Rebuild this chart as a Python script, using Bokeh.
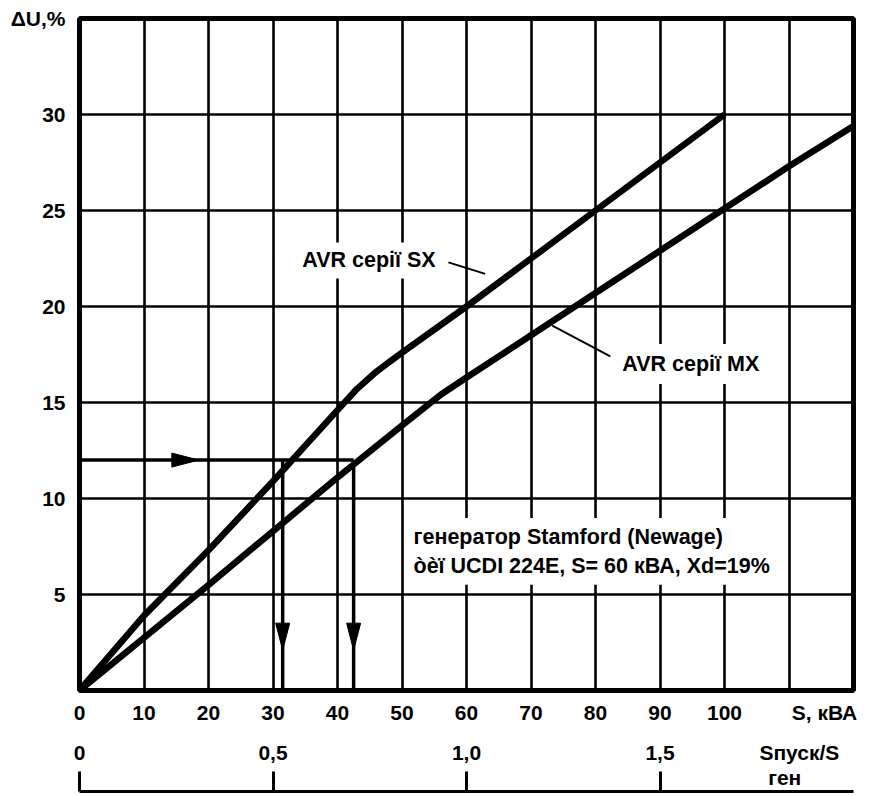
from bokeh.plotting import figure
from bokeh.models import Range1d, LinearAxis, FixedTicker, Label
from bokeh.embed import file_html
from bokeh.resources import INLINE

# ---------------- data ----------------
s_sx = [0, 10, 20, 30, 40, 43, 46, 48, 50, 60, 70, 80, 90, 100]
du_sx = [0, 3.9, 7.3, 10.9, 14.6, 15.7, 16.6, 17.1, 17.6, 20.0, 22.5, 25.0, 27.5, 30.0]

s_mx = [0, 10, 20, 30, 40, 50, 56, 60, 70, 80, 90, 100, 110, 120]
du_mx = [0, 2.75, 5.5, 8.3, 11.1, 13.8, 15.4, 16.3, 18.5, 20.7, 22.9, 25.1, 27.3, 29.4]

x_ticks = [0, 10, 20, 30, 40, 50, 60, 70, 80, 90, 100]
x_grid = [10, 20, 30, 40, 50, 60, 70, 80, 90, 100, 110]
x_unit_label = "S, кВА"
y_ticks = [5, 10, 15, 20, 25, 30]
y_unit_label = "ΔU,%"
ratio_ticks = [0, 0.5, 1.0, 1.5]
ratio_labels = ["0", "0,5", "1,0", "1,5"]
ratio_unit_label = "Sпуск/S\nген\u00a0\u00a0\u00a0\u00a0\u00a0"
s_nominal = 60  # kVA

example_du = 12           # voltage dip read-off level
example_s = [31.5, 42.5]  # resulting loads, SX and MX
arrow_tip_s = 18.5
drop_tip_du = 2.1

sx_label = "AVR серії SX"
mx_label = "AVR серії MX"
gen_label = "генератор Stamford (Newage)\nòèï UCDI 224E, S= 60 кВА, Xd=19%"

# ---------------- layout ----------------
W, H = 862, 796
ML, MR, MT, MB = 79, 9, 18, 106
X0, X1, Y0, Y1 = 0, 120, 0, 35
FONT = "Liberation Sans"
TICK_FS = "21px"
ANN_FS = "21.5px"

p = figure(width=W, height=H, x_range=Range1d(X0, X1), y_range=Range1d(Y0, Y1),
           output_backend="svg", toolbar_location=None,
           min_border_left=ML, min_border_right=MR, min_border_top=MT, min_border_bottom=MB)
p.background_fill_color = "white"
p.border_fill_color = "white"
p.outline_line_color = "black"
p.outline_line_width = 5

fw = W - ML - MR
fh = H - MT - MB
px_x = fw / (X1 - X0)
px_y = fh / (Y1 - Y0)

p.xgrid.ticker = FixedTicker(ticks=x_grid)
p.ygrid.ticker = FixedTicker(ticks=y_ticks)
for g in (p.xgrid[0], p.ygrid[0]):
    g.grid_line_color = "black"
    g.grid_line_width = 2.6

# primary x axis
ax = p.xaxis[0]
unit_pos = 115.5
ax.ticker = FixedTicker(ticks=x_ticks + [unit_pos])
ax.major_label_overrides = {unit_pos: x_unit_label}
ax.axis_line_color = None
ax.major_tick_line_color = None
ax.minor_tick_line_color = None
ax.major_tick_in = 0
ax.major_tick_out = 0
ax.major_label_standoff = 10

# y axis
ay = p.yaxis[0]
ay.ticker = FixedTicker(ticks=y_ticks + [Y1])
ay.major_label_overrides = {Y1: y_unit_label}
ay.axis_line_color = None
ay.major_tick_line_color = None
ay.minor_tick_line_color = None
ay.major_tick_in = 0
ay.major_tick_out = 0
ay.major_label_standoff = 14

# ratio axis (Sпуск / Sген)
p.extra_x_ranges = {"ratio": Range1d(X0 / s_nominal, X1 / s_nominal)}
unit_ratio = 1.86
ax2 = LinearAxis(x_range_name="ratio",
                 ticker=FixedTicker(ticks=ratio_ticks + [unit_ratio]),
                 major_label_overrides={**dict(zip(ratio_ticks, ratio_labels)),
                                        unit_ratio: ratio_unit_label})
ax2.axis_line_color = None
ax2.major_tick_line_color = None
ax2.minor_tick_line_color = None
ax2.major_tick_in = 0
ax2.major_tick_out = 0
ax2.major_label_standoff = 14
ax2.major_label_text_line_height = 1.1
p.add_layout(ax2, "below")

# baseline of the ratio scale with upward ticks
ax3 = LinearAxis(x_range_name="ratio", ticker=FixedTicker(ticks=ratio_ticks),
                 major_label_overrides={t: "" for t in ratio_ticks})
ax3.axis_line_color = "black"
ax3.axis_line_width = 3
ax3.major_tick_line_color = "black"
ax3.major_tick_line_width = 3
ax3.minor_tick_line_color = None
ax3.major_tick_in = 20
ax3.major_tick_out = 0
ax3.major_label_standoff = 0
ax3.major_label_text_font_size = "0px"
ax3.major_label_text_color = None
p.add_layout(ax3, "below")

for a in (ax, ay, ax2):
    a.major_label_text_font = FONT
    a.major_label_text_font_size = TICK_FS
    a.major_label_text_font_style = "bold"
    a.major_label_text_color = "black"

# ---------------- curves ----------------
p.line(s_sx, du_sx, line_color="black", line_width=6.5, line_join="round")
p.line(s_mx, du_mx, line_color="black", line_width=6.5, line_join="round")

# read-off arrows
p.segment(x0=[X0], y0=[example_du], x1=[max(example_s)], y1=[example_du],
          line_color="black", line_width=3.5)
p.segment(x0=example_s, y0=[example_du] * len(example_s), x1=example_s, y1=[Y0] * len(example_s),
          line_color="black", line_width=3.5)

head_len, head_half = 27, 7
hx = [[arrow_tip_s, arrow_tip_s - head_len / px_x, arrow_tip_s - head_len / px_x]]
hy = [[example_du, example_du + head_half / px_y, example_du - head_half / px_y]]
for s in example_s:
    hx.append([s, s - head_half / px_x, s + head_half / px_x])
    hy.append([drop_tip_du, drop_tip_du + head_len / px_y, drop_tip_du + head_len / px_y])
p.patches(hx, hy, fill_color="black", line_color="black", line_width=1)

# leader lines for curve labels
sx_leader_s, sx_leader_du = [57.2, 62.9], [22.3, 21.7]
mx_leader_s, mx_leader_du = [73.3, 82.3], [19.0, 17.4]
p.line(sx_leader_s, sx_leader_du, line_color="black", line_width=2)
p.line(mx_leader_s, mx_leader_du, line_color="black", line_width=2)


def add_label(x, y, text, pad):
    lab = Label(x=x, y=y, text=text, text_font=FONT, text_font_size=ANN_FS,
                text_font_style="bold", text_color="black",
                text_align="left", text_baseline="middle",
                background_fill_color="white", padding=pad)
    p.add_layout(lab)


add_label(33.6, 22.4, sx_label, 6)
add_label(82.9, 17.0, mx_label, 8)
add_label(50.7, 7.25, gen_label, 7)

open("out.html", "w").write(file_html(p, INLINE))
